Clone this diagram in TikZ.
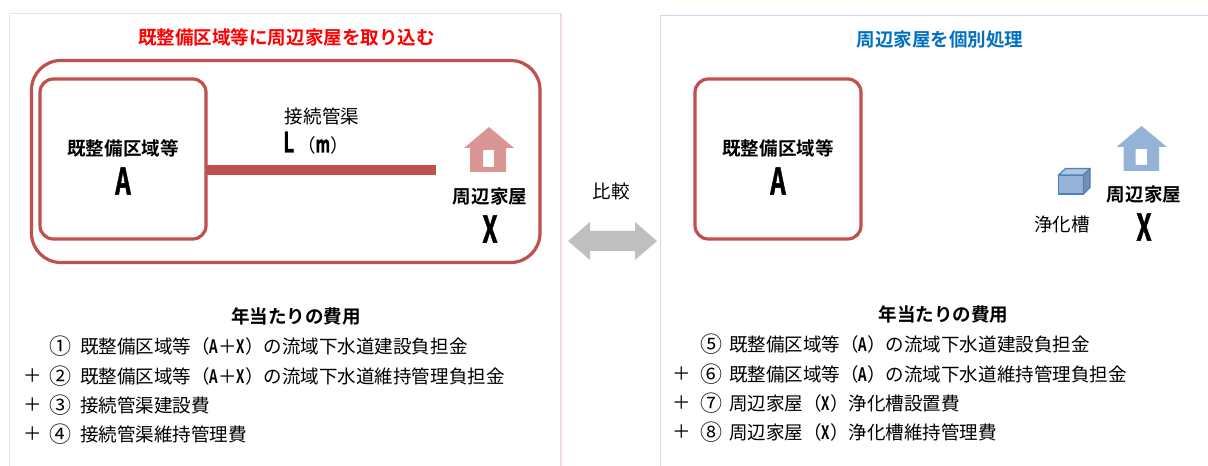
\documentclass[tikz,border=0pt]{standalone}
\usepackage{fontspec}
\setmainfont[BoldFont={Noto Sans CJK JP Bold}]{Noto Sans CJK JP}
\newfontfamily\narrowbold[FakeStretch=0.66,FakeBold=1.2]{Noto Sans CJK JP Bold}
\newfontfamily\narrowreg[FakeStretch=0.72]{Noto Sans CJK JP Bold}
\definecolor{boxred}{HTML}{C0504D}
\definecolor{houseRed}{HTML}{DA9694}
\definecolor{houseBlue}{HTML}{95B3D7}
\definecolor{edgeBlue}{HTML}{4F81BD}
\definecolor{panelRed}{HTML}{F2DCDB}
\definecolor{panelBlue}{HTML}{C6D9F1}
\definecolor{titleBlue}{HTML}{0070C0}
\definecolor{arrowGrey}{HTML}{BFBFBF}
\newcommand{\bigL}[1]{{\fontsize{27.5pt}{27.5pt}\narrowbold #1}}
\newcommand{\midL}[1]{{\fontsize{21pt}{21pt}\narrowbold #1}}
\newcommand{\smL}[1]{{\narrowreg #1}}
\newcommand{\circled}[1]{{\fontsize{16.5pt}{16.5pt}\selectfont #1}}
\tikzset{
  x=0.75pt,y=-0.75pt,
  every node/.style={inner sep=0pt,outer sep=0pt,font=\fontsize{13.9pt}{16pt}\selectfont,text=black},
  panelL/.style={draw=panelRed,line width=0.9pt},
  panelR/.style={draw=panelBlue,line width=0.9pt},
  outerbox/.style={draw=boxred,line width=2.4pt,rounded corners=22pt},
  areabox/.style={draw=boxred,line width=2.4pt,rounded corners=10pt,fill=white},
  pipe/.style={draw=boxred,line width=7.5pt},
  rowtext/.style={anchor=west},
  plus/.style={anchor=center},
}
\begin{document}
\begin{tikzpicture}
\useasboundingbox (0,0) rectangle (1208,466);
\fill[white] (0,0) rectangle (1208,466);
% panels
\draw[panelL] (9.5,466) -- (9.5,13.5) -- (561,13.5) -- (561,466);
\draw[panelR] (1208,15.5) -- (660.5,15.5) -- (660.5,466);
\node[text=red,font=\fontsize{13.9pt}{16pt}\bfseries] (t1) at (286.5,37) {既整備区域等に周辺家屋を取り込む};
\node[text=titleBlue,font=\fontsize{13.9pt}{16pt}\bfseries] (t2) at (940,40) {周辺家屋を個別処理};
% left diagram
\node[outerbox,minimum width=508.5pt*0.75,minimum height=202pt*0.75,anchor=north west] (outer) at (31.5,60.5) {};
\node[areabox,minimum width=166pt*0.75,minimum height=160pt*0.75,anchor=north west] (boxA) at (40,79) {};
\coordinate (pipeA) at (boxA.east |- 0,170);
\coordinate (pipeEnd) at (436,170);
\draw[pipe] (pipeA) -- (pipeEnd);
\node[font=\fontsize{13.9pt}{16pt}\bfseries] (la) at (123,148) {既整備区域等};
\node (laA) at (123,181) {\bigL{A}};
\node (lp) at (322,116) {接続管渠};
\node (lm) at (316,143) {\midL{L}\,（{\fontsize{17pt}{17pt}\narrowbold m}）};
\fill[houseRed,even odd rule] (489,127) -- (514,148) -- (506,148) -- (506,172) -- (470,172) -- (470,148) -- (464,148) -- cycle
  (483,150) rectangle (494,167);
\node[font=\fontsize{13.9pt}{16pt}\bfseries] (lh) at (490,197) {周辺家屋};
\node (lhX) at (490,229) {\bigL{X}};
% compare
\node (cmp) at (611,191) {比較};
\fill[arrowGrey] (568,241) -- (590,222) -- (590,231) -- (635,231) -- (635,222) -- (657,241) -- (635,260) -- (635,251) -- (590,251) -- (590,260) -- cycle;
% right diagram
\node[areabox,minimum width=166pt*0.75,minimum height=160pt*0.75,anchor=north west] (boxB) at (695,79) {};
\node[font=\fontsize{13.9pt}{16pt}\bfseries] (ra) at (778,148) {既整備区域等};
\node (raA) at (778,181) {\bigL{A}};
\fill[houseBlue,even odd rule] (1141.5,126) -- (1167,147) -- (1159,147) -- (1159,171) -- (1123.5,171) -- (1123.5,147) -- (1116.5,147) -- cycle
  (1135.5,149) rectangle (1147,165);
\node[font=\fontsize{13.9pt}{16pt}\bfseries] (rh) at (1144,195) {周辺家屋};
\node (rhX) at (1144,227) {\bigL{X}};
\begin{scope}[draw=edgeBlue,line width=0.9pt,line join=round]
\filldraw[fill=houseBlue] (1058.5,175) rectangle (1083.5,194);
\filldraw[fill=houseBlue!75!white] (1058.5,175) -- (1065.5,168.5) -- (1090,168.5) -- (1083.5,175) -- cycle;
\filldraw[fill=houseBlue!80!black] (1083.5,175) -- (1090,168.5) -- (1090,187.5) -- (1083.5,194) -- cycle;
\end{scope}
\node (tank) at (1062,224) {浄化槽};
% left list
\node[font=\fontsize{13.9pt}{16pt}\bfseries] (lc) at (296,316) {年当たりの費用};
\node (l1n) at (61,346) {\circled{①}};
\node[rowtext] (l1) at (80,346) {既整備区域等（\smL{A}＋\smL{X}）の流域下水道建設負担金};
\node[plus] (p2) at (33,376) {＋};
\node (l2n) at (61,376) {\circled{②}};
\node[rowtext] (l2) at (80,376) {既整備区域等（\smL{A}＋\smL{X}）の流域下水道維持管理負担金};
\node[plus] (p3) at (33,405) {＋};
\node (l3n) at (61,405) {\circled{③}};
\node[rowtext] (l3) at (80,405) {接続管渠建設費};
\node[plus] (p4) at (33,434) {＋};
\node (l4n) at (61,434) {\circled{④}};
\node[rowtext] (l4) at (80,434) {接続管渠維持管理費};
% right list
\node[font=\fontsize{13.9pt}{16pt}\bfseries] (rc) at (943.5,314) {年当たりの費用};
\node (r1n) at (711,344) {\circled{⑤}};
\node[rowtext] (r1) at (729,344) {既整備区域等（\smL{A}）の流域下水道建設負担金};
\node[plus] (q2) at (682,374) {＋};
\node (r2n) at (711,374) {\circled{⑥}};
\node[rowtext] (r2) at (729,374) {既整備区域等（\smL{A}）の流域下水道維持管理負担金};
\node[plus] (q3) at (682,403) {＋};
\node (r3n) at (711,403) {\circled{⑦}};
\node[rowtext] (r3) at (729,403) {周辺家屋（\smL{X}）浄化槽設置費};
\node[plus] (q4) at (682,432) {＋};
\node (r4n) at (711,432) {\circled{⑧}};
\node[rowtext] (r4) at (729,432) {周辺家屋（\smL{X}）浄化槽維持管理費};
\end{tikzpicture}
\end{document}
